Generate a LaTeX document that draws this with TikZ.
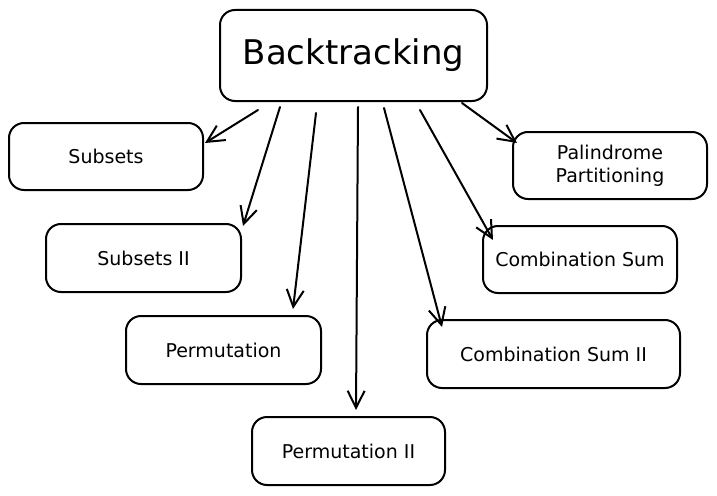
\documentclass[tikz,border=0pt]{standalone}
\usepackage{fontspec}
\setmainfont{DejaVu Sans}
\usetikzlibrary{arrows.meta}
\begin{document}
\begin{tikzpicture}[x=1pt,y=-1pt,
  box/.style={draw, line width=2pt, rounded corners=15pt, align=center, inner sep=0pt,
    font=\fontsize{19}{23}\selectfont},
  arr/.style={line width=2pt, line cap=round, -{Straight Barb[length=17pt,width=17pt,line width=2pt]}}]
\fill[white] (0,0) rectangle (717,495);
\useasboundingbox (0,0) rectangle (717,495);
\node[box, minimum width=267pt, minimum height=91pt, font=\fontsize{34}{40}\selectfont] (bt) at (353.5,55.5) {Backtracking};
\node[box, minimum width=194pt, minimum height=67pt] (sub) at (106,156.5) {Subsets};
\node[box, minimum width=195pt, minimum height=68pt] (sub2) at (143.5,258) {Subsets II};
\node[box, minimum width=195pt, minimum height=68pt] (perm) at (223.5,350) {Permutation};
\node[box, minimum width=193pt, minimum height=68pt] (perm2) at (348.5,451) {Permutation II};
\node[box, minimum width=194pt, minimum height=67pt] (pal) at (610,165.5) {Palindrome\\Partitioning};
\node[box, minimum width=194pt, minimum height=67pt] (cs) at (580,259.5) {Combination Sum};
\node[box, minimum width=253pt, minimum height=68pt] (cs2) at (553.5,354) {Combination Sum II};
% arrow start points below Backtracking
\coordinate (s1) at (258,110);
\coordinate (s2) at (280,107);
\coordinate (s3) at (316,113);
\coordinate (s4) at (358,107);
\coordinate (s5) at (384,108);
\coordinate (s6) at (420,110);
\coordinate (s7) at (462,103);
% arrow tips
\coordinate (t1) at (205,143);
\coordinate (t2) at (243,226);
\coordinate (t3) at (293,309);
\coordinate (t4) at (356,410);
\coordinate (t5) at (442,327);
\coordinate (t6) at (493,240);
\coordinate (t7) at (517,143);
\draw[arr] (s1) -- (t1);
\draw[arr] (s2) -- (t2);
\draw[arr] (s3) -- (t3);
\draw[arr] (s4) -- (t4);
\draw[arr] (s5) -- (t5);
\draw[arr] (s6) -- (t6);
\draw[arr] (s7) -- (t7);
\end{tikzpicture}
\end{document}
